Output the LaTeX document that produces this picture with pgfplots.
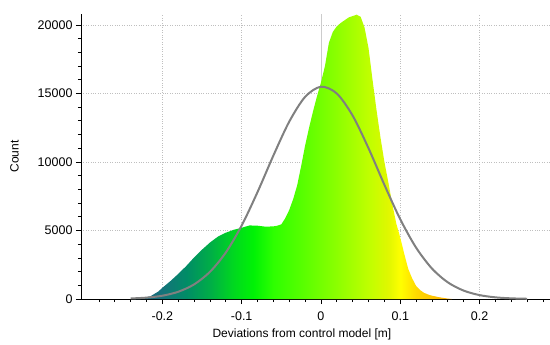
\documentclass[border=0pt]{standalone}
\usepackage{fontspec}
\setmainfont{Liberation Sans}
\usepackage{pgfplots}
\pgfplotsset{compat=1.18}
\pgfdeclarehorizontalshading{histshade}{100bp}{%
rgb(0bp)=(0.12,0.38,0.50);
rgb(25bp)=(0.12,0.38,0.50);
rgb(29.375bp)=(0.08,0.45,0.48);
rgb(33.125bp)=(0.0,0.55,0.40);
rgb(36.875bp)=(0.0,0.68,0.28);
rgb(40.625bp)=(0.0,0.85,0.12);
rgb(43.75bp)=(0.0,0.95,0.02);
rgb(46.875bp)=(0.18,1.0,0.0);
rgb(51.875bp)=(0.36,1.0,0.0);
rgb(56.875bp)=(0.55,1.0,0.0);
rgb(61.875bp)=(0.75,1.0,0.0);
rgb(65bp)=(0.88,0.97,0.0);
rgb(66.875bp)=(1.0,1.0,0.0);
rgb(69.375bp)=(1.0,0.85,0.0);
rgb(75bp)=(1.0,0.68,0.0);
rgb(100bp)=(1.0,0.68,0.0)}
\begin{document}
\begin{tikzpicture}
\begin{axis}[
  scale only axis, width=469pt, height=285pt,
  xmin=-0.3026, xmax=0.2888, ymin=0, ymax=20800,
  axis x line=bottom, axis y line=left,
  axis line style={-, black, line width=0.8pt},
  xtick={-0.2,-0.1,0,0.1,0.2},
  minor xtick={-0.28,-0.26,...,0.281},
  ytick={0,5000,10000,15000,20000},
  minor ytick={1000,2000,...,19000},
  scaled y ticks=false, scaled x ticks=false,
  tick align=outside,
  major tick length=5pt, minor tick length=3pt,
  tick style={black, line width=0.8pt},
  grid=major,
  major grid style={dotted, black!25, line width=0.8pt},
  /pgf/number format/1000 sep={},
  /pgf/number format/assume math mode=true,
  tick label style={font=\fontsize{12.5}{14}\selectfont},
  xticklabel style={yshift=-4pt},
  xlabel={Deviations from control model [m]},
  ylabel={Count},
  label style={font=\fontsize{12}{14}\selectfont},
  xlabel style={at={(ticklabel cs:0.471)}, yshift=-4pt, inner sep=1pt},
  ylabel style={at={(ticklabel cs:0.5,12pt)}},
]
\coordinate (LL) at (rel axis cs:0,0);
\coordinate (UR) at (rel axis cs:1,1);
\addplot[black!20, line width=0.8pt] coordinates {(0,0) (0,20800)};
\addplot[draw=none, shade, shading=histshade, shading angle=0] coordinates {
(-0.235,0) (-0.225,60) (-0.215,200) (-0.205,550) (-0.20,820) (-0.19,1300)
(-0.18,1830) (-0.17,2400) (-0.16,3030) (-0.15,3600) (-0.14,4120) (-0.13,4550)
(-0.12,4840) (-0.11,5050) (-0.10,5200) (-0.09,5370) (-0.08,5350) (-0.07,5280)
(-0.06,5300) (-0.055,5350) (-0.05,5450) (-0.045,5900) (-0.04,6500) (-0.035,7300)
(-0.03,8300) (-0.025,9700) (-0.02,11200) (-0.015,12500) (-0.01,13700) (-0.005,14800)
(0.0,15800) (0.005,17000) (0.01,18700) (0.015,19500) (0.02,19900) (0.025,20150)
(0.03,20350) (0.035,20550) (0.04,20650) (0.045,20750) (0.05,20600) (0.055,19800)
(0.06,18300) (0.065,16000) (0.07,13800) (0.075,11800) (0.08,10000) (0.085,8500)
(0.09,6900) (0.095,5500) (0.10,4480) (0.105,3300) (0.11,2200) (0.115,1500)
(0.12,950) (0.125,650) (0.13,450) (0.135,330) (0.14,240) (0.15,120) (0.16,30) (0.165,0)
} \closedcycle;
\addplot[smooth, black!50, line width=2pt] coordinates {
(-0.24,39) (-0.22,101) (-0.20,241) (-0.18,528) (-0.16,1065) (-0.14,1981)
(-0.12,3394) (-0.10,5362) (-0.08,7805) (-0.06,10472) (-0.04,12947) (-0.02,14753)
(0.0,15494) (0.02,14996) (0.04,13376) (0.06,10997) (0.08,8331) (0.10,5817)
(0.12,3743) (0.14,2220) (0.16,1213) (0.18,611) (0.20,284) (0.22,121) (0.24,48) (0.26,17)
};
\end{axis}
\pgfresetboundingbox
\path[use as bounding box] ([shift={(-81pt,-45pt)}]LL) rectangle ([shift={(0pt,14pt)}]UR);
\end{tikzpicture}
\end{document}
